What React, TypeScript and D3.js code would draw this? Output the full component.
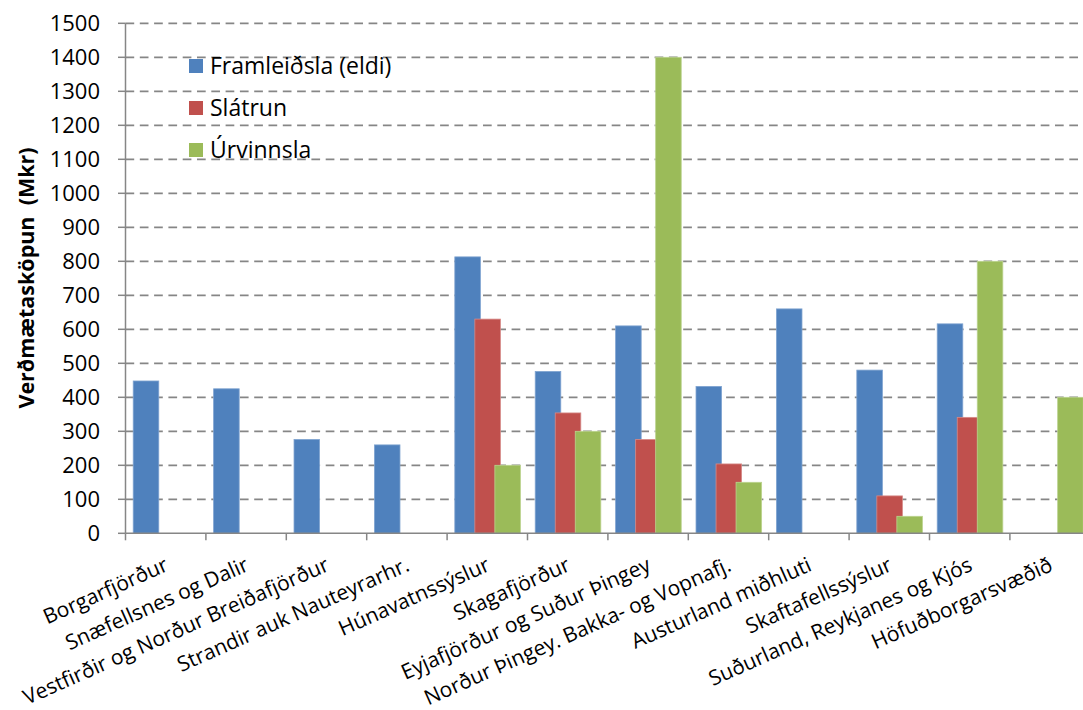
import React from "react";
import * as d3 from "d3";

const categories = [
  "Borgarfjörður",
  "Snæfellsnes og Dalir",
  "Vestfirðir og Norður Breiðafjörður",
  "Strandir auk Nauteyrarhr.",
  "Húnavatnssýslur",
  "Skagafjörður",
  "Eyjafjörður og Suður Þingey",
  "Norður Þingey. Bakka- og Vopnafj.",
  "Austurland miðhluti",
  "Skaftafellssýslur",
  "Suðurland, Reykjanes og Kjós",
  "Höfuðborgarsvæðið",
];

const seriesNames = ["Framleiðsla (eldi)", "Slátrun", "Úrvinnsla"];
const framleidsla = [448, 425, 276, 260, 813, 476, 610, 432, 660, 480, 616, 0];
const slatrun = [0, 0, 0, 0, 630, 354, 276, 204, 0, 110, 341, 0];
const urvinnsla = [0, 0, 0, 0, 200, 300, 1400, 150, 0, 50, 800, 400];
const yTicks = [0, 100, 200, 300, 400, 500, 600, 700, 800, 900, 1000, 1100, 1200, 1300, 1400, 1500];

const colors = ["#4F81BD", "#C0504D", "#9BBB59"];
const borders = ["#7FA3D0", "#D68A88", "#BBD38E"];

const W = 1083;
const H = 710;
const left = 125.5;
const right = 1090.3;
const top = 23.3;
const bottom = 533.3;
const font = "'Open Sans', sans-serif";
const axisColor = "#868686";

export default function App() {
  const x = d3.scaleBand<string>().domain(categories).range([left, right]).padding(0);
  const y = d3.scaleLinear().domain([0, 1500]).range([bottom, top]);
  const bw = x.bandwidth();
  const barW = bw * 0.318;
  const barStep = bw * 0.249;
  const groupStart = bw * 0.096;
  const series = [framleidsla, slatrun, urvinnsla];

  return (
    <svg width={W} height={H} style={{ position: "absolute", left: 0, top: 0, background: "#fff" }}>
      {/* gridlines */}
      {yTicks.filter((t) => t > 0).map((t) => (
        <line
          key={"g" + t}
          x1={left}
          x2={W}
          y1={y(t)}
          y2={y(t)}
          stroke={axisColor}
          strokeWidth={1.8}
          strokeDasharray="8.7 5.6"
        />
      ))}
      {/* bars */}
      {series.map((vals, si) =>
        vals.map((v, ci) =>
          v > 0 ? (
            <rect
              key={`b${si}-${ci}`}
              x={(x(categories[ci]) as number) + groupStart + si * barStep}
              y={y(v)}
              width={barW}
              height={bottom - y(v)}
              fill={colors[si]}
              stroke={borders[si]}
              strokeWidth={0.8}
            />
          ) : null
        )
      )}
      {/* y axis */}
      <line x1={left} x2={left} y1={top} y2={bottom} stroke={axisColor} strokeWidth={1.5} />
      {yTicks.map((t) => (
        <g key={"t" + t}>
          <line x1={left - 7.5} x2={left} y1={y(t)} y2={y(t)} stroke={axisColor} strokeWidth={1.5} />
          <text
            x={100}
            y={y(t)}
            dy="0.35em"
            textAnchor="end"
            fontFamily={font}
            fontSize={22}
            fill="#000"
          >
            {t}
          </text>
        </g>
      ))}
      {/* x axis */}
      <line x1={left} x2={W} y1={bottom} y2={bottom} stroke={axisColor} strokeWidth={1.5} />
      {categories.map((c, i) => (
        <line
          key={"xt" + i}
          x1={(x(c) as number)}
          x2={(x(c) as number)}
          y1={bottom}
          y2={bottom + 7}
          stroke={axisColor}
          strokeWidth={1.5}
        />
      ))}
      {categories.map((c, i) => {
        const cx = (x(c) as number) + bw / 2 + 4;
        const cy = 570;
        return (
          <text
            key={"xl" + i}
            transform={`translate(${cx},${cy}) rotate(-24)`}
            textAnchor="end"
            fontFamily={font}
            fontSize={21}
            fill="#000"
          >
            {c}
          </text>
        );
      })}
      {/* y axis title */}
      <text
        transform={`translate(34,278) rotate(-90)`}
        textAnchor="middle"
        fontFamily={font}
        fontSize={21.5}
        fontWeight="bold"
        fill="#000"
        style={{ whiteSpace: "pre" }}
      >
        {"Verðmætasköpun  (Mkr)"}
      </text>
      {/* legend */}
      {seriesNames.map((n, i) => (
        <g key={"lg" + i} transform={`translate(189,${66 + i * 42})`}>
          <rect x={0} y={-7} width={14} height={14} fill={colors[i]} />
          <text x={21} y={0} dy="0.35em" fontFamily={font} fontSize={23} fill="#000">
            {n}
          </text>
        </g>
      ))}
    </svg>
  );
}
